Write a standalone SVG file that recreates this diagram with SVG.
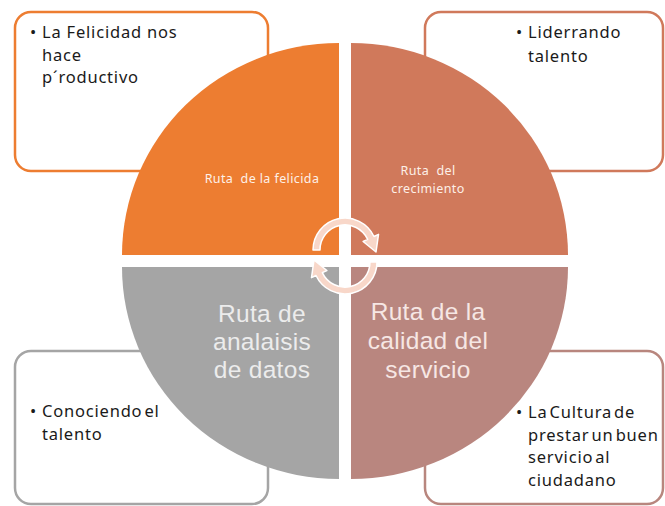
<svg xmlns="http://www.w3.org/2000/svg" width="665" height="506" viewBox="0 0 665 506">
<style>
.box{fill:#fff;stroke-width:2.5}
.bt{font-family:"Noto Sans","Open Sans",sans-serif;font-size:16.5px;fill:#1a1a1a;letter-spacing:0.8px}
.sm{font-family:"Noto Sans","Open Sans",sans-serif;font-size:12.5px;fill:#fdf0e8;text-anchor:middle;letter-spacing:0.4px}
.lg{font-family:"Liberation Sans",Arial,sans-serif;font-size:24.5px;text-anchor:middle;letter-spacing:0.3px}
.arr{fill:#f8d7c9;stroke:#fff;stroke-width:1.5;stroke-linejoin:round}
</style>
<rect width="665" height="506" fill="#fff"/>
<g id="box-tl">
<rect class="box" x="15" y="12" width="253" height="159" rx="16" stroke="#ED7D31"/>
<text class="bt" x="30" y="38">•</text>
<text class="bt" x="42" y="38">La Felicidad nos<tspan x="42" y="61">hace</tspan><tspan x="42" y="83">p´roductivo</tspan></text>
</g>
<g id="box-tr">
<rect class="box" x="425" y="12" width="238" height="159" rx="16" stroke="#D0795B"/>
<text class="bt" x="516" y="38">•</text>
<text class="bt" x="528" y="38">Liderrando<tspan x="528" y="62">talento</tspan></text>
</g>
<g id="box-bl">
<rect class="box" x="15" y="351" width="253" height="153" rx="16" stroke="#A5A5A5"/>
<text class="bt" x="30" y="417">•</text>
<text class="bt" x="42" y="417"><tspan word-spacing="-3">Conociendo el</tspan><tspan x="42" y="440">talento</tspan></text>
</g>
<g id="box-br">
<rect class="box" x="425" y="351" width="238" height="153" rx="16" stroke="#B8867E"/>
<text class="bt" x="516" y="418">•</text>
<text class="bt" x="528" y="418" word-spacing="-3">La Cultura de<tspan x="528" y="441">prestar un buen</tspan><tspan x="528" y="463">servicio al</tspan><tspan x="528" y="486">ciudadano</tspan></text>
</g>
<g id="q-tl">
<path d="M339,255 L122,255 A217,212 0 0 1 339,43 Z" fill="#ED7D31"/>
<text class="sm" x="262" y="183" xml:space="preserve">Ruta  de la felicida</text>
</g>
<g id="q-tr">
<path d="M351,255 L351,43 A217,212 0 0 1 568,255 Z" fill="#D0795B"/>
<text class="sm" x="428" y="175" xml:space="preserve">Ruta  del<tspan x="428" y="193">crecimiento</tspan></text>
</g>
<g id="q-bl">
<path d="M339,267 L339,479 A217,212 0 0 1 122,267 Z" fill="#A5A5A5"/>
<text class="lg" x="262" y="322" fill="#ececec">Ruta de<tspan x="262" y="350">analaisis</tspan><tspan x="262" y="378">de datos</tspan></text>
</g>
<g id="q-br">
<path d="M351,267 L568,267 A217,212 0 0 1 351,479 Z" fill="#B9867F"/>
<text class="lg" x="428" y="320" fill="#f6e7e4">Ruta de la<tspan x="428" y="349">calidad del</tspan><tspan x="428" y="378">servicio</tspan></text>
</g>
<g id="connectors">
<path class="arr" d="M313,250 A32,32 0 0 1 374,236.5 L378.5,234.4 L376,252 L363.1,241.5 L367.7,239.4 A25,25 0 0 0 320,250 Z"/>
<path class="arr" d="M377,262 A32,32 0 0 1 316,275.5 L311.5,277.6 L314,260 L326.9,270.5 L322.3,272.6 A25,25 0 0 0 370,262 Z"/>
</g>
</svg>
